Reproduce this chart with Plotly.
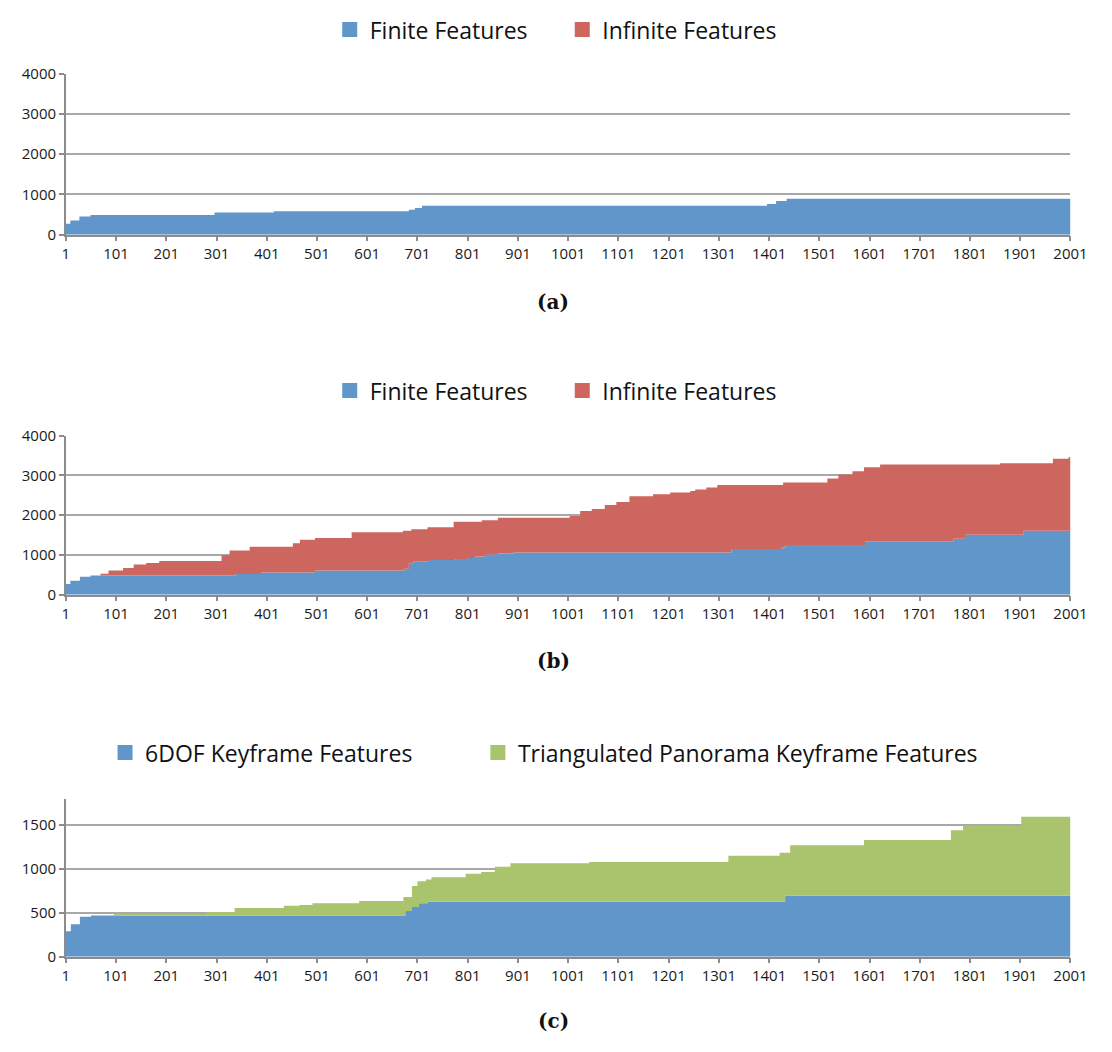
import plotly.graph_objects as go

# ---------------------------------------------------------------
# Feature counts per frame, stored as step breakpoints:
# each value holds from its frame until the next listed frame.
# ---------------------------------------------------------------
LAST_FRAME = 2001

# (a) finite vs. infinite features
frames_a = [1, 10, 28, 50, 297, 415, 684, 696, 710, 1397, 1415, 1436]
finite_a = [270, 350, 450, 490, 550, 585, 620, 665, 720, 765, 840, 890]
infinite_a = [0, 0, 0, 0, 0, 0, 0, 0, 0, 0, 0, 0]

# (b) finite vs. infinite features
frames_b = [1, 10, 29, 50, 70, 86, 115, 136, 161, 187, 311, 327, 339, 367, 390,
            453, 467, 497, 570, 672, 675, 684, 689, 693, 721, 724, 773, 777,
            801, 817, 829, 836, 861, 892, 1004, 1025, 1048, 1074, 1097, 1123,
            1170, 1204, 1244, 1254, 1276, 1298, 1326, 1426, 1429, 1434, 1517,
            1539, 1567, 1590, 1592, 1622, 1768, 1791, 1861, 1908, 1966, 1997]
finite_b = [270, 350, 450, 480, 480, 480, 480, 480, 480, 480, 480, 480, 520, 520, 560,
            560, 560, 610, 610, 610, 650, 790, 790, 840, 840, 875, 875, 900,
            925, 960, 960, 1010, 1035, 1065, 1065, 1065, 1065, 1065, 1065, 1065,
            1065, 1065, 1065, 1065, 1065, 1065, 1150, 1190, 1190, 1250, 1250,
            1250, 1250, 1250, 1345, 1345, 1410, 1510, 1510, 1610, 1610, 1610]
infinite_b = [0, 0, 0, 0, 50, 130, 190, 280, 320, 365, 510, 635, 595, 685, 645,
              735, 820, 820, 960, 1000, 960, 820, 860, 810, 855, 820, 960, 935,
              910, 875, 915, 865, 900, 870, 915, 1040, 1090, 1190, 1265, 1415,
              1465, 1505, 1545, 1585, 1635, 1695, 1610, 1570, 1635, 1575, 1675,
              1775, 1855, 1955, 1860, 1935, 1870, 1770, 1800, 1700, 1810, 1850]

# (c) 6DOF keyframe features vs. triangulated panorama keyframe features
frames_c = [1, 11, 29, 51, 97, 281, 337, 435, 466, 492, 585, 673, 677, 690, 701,
            704, 718, 721, 729, 797, 828, 855, 886, 1043, 1320, 1422, 1433,
            1443, 1590, 1763, 1787, 1903]
dof6_c = [290, 370, 455, 470, 470, 470, 470, 470, 470, 470, 470, 470, 520, 565, 565,
          610, 610, 625, 625, 625, 625, 625, 625, 625, 625, 625, 695,
          695, 695, 695, 695, 695]
pano_c = [0, 0, 0, 0, 20, 40, 85, 110, 120, 140, 165, 210, 160, 240, 295,
          250, 270, 255, 280, 320, 340, 400, 440, 455, 525, 560, 490,
          575, 635, 745, 800, 900]

tick_frames = list(range(1, LAST_FRAME + 1, 100))

BLUE = "#6096c9"
RED = "#cd665f"
GREEN = "#a9c46c"
AXIS_GREY = "#8c8c8c"
GRID_GREY = "#a8a8a8"
FONT = "Open Sans"

W, H = 1112, 1052
X_LEFT, X_RIGHT = 63, 1087
# pixel rows (top, bottom) of each panel's plotting area
panels = [(64, 228), (433, 595), (803, 964)]
# legend row centre and the left edge of each entry's label, per panel
legend_text_x = [(366, 603), (366, 603), (137, 517)]
legend_rows = [19, 387, 756]


def extend(frames, values):
    """Carry the final step out to the last frame."""
    return list(frames) + [LAST_FRAME], list(values) + [values[-1]]


fig = go.Figure()

series = [
    ("a", frames_a, [("Finite Features", finite_a, BLUE),
                     ("Infinite Features", infinite_a, RED)]),
    ("b", frames_b, [("Finite Features", finite_b, BLUE),
                     ("Infinite Features", infinite_b, RED)]),
    ("c", frames_c, [("6DOF Keyframe Features", dof6_c, BLUE),
                     ("Triangulated Panorama Keyframe Features", pano_c, GREEN)]),
]

layout = dict(
    width=W, height=H, margin=dict(l=0, r=0, t=0, b=0),
    paper_bgcolor="white", plot_bgcolor="white",
    font=dict(family=FONT, color="#1a1a1a"),
    showlegend=True,
)

legend_no = 0
for i, (tag, frames, traces) in enumerate(series):
    ax = "" if i == 0 else str(i + 1)
    for j, (name, vals, color) in enumerate(traces):
        xs, ys = extend(frames, vals)
        fig.add_trace(go.Scatter(
            x=xs, y=ys, name=name, mode="lines",
            line=dict(shape="hv", width=0, color=color),
            fillcolor=color, stackgroup=tag,
            xaxis="x" + ax, yaxis="y" + ax, showlegend=False,
        ))
        # square key for this series, one legend box per entry
        legend_no += 1
        lg = "legend" if legend_no == 1 else "legend%d" % legend_no
        fig.add_trace(go.Scatter(
            x=[None], y=[None], name=name, mode="markers",
            marker=dict(symbol="square", size=15, color=color),
            xaxis="x" + ax, yaxis="y" + ax, legend=lg, showlegend=True,
        ))
        layout[lg] = dict(
            orientation="h", x=(legend_text_x[i][j] - 34) / W, xanchor="left",
            y=1 - legend_rows[i] / H, yanchor="middle",
            font=dict(size=23, family=FONT, color="#111"),
            itemwidth=30, bgcolor="rgba(0,0,0,0)",
        )

y_ranges = [[0, 4000], [0, 4000], [0, 1800]]
y_ticks = [[0, 1000, 2000, 3000, 4000], [0, 1000, 2000, 3000, 4000], [0, 500, 1000, 1500]]

for i, (top, bot) in enumerate(panels):
    ax = "" if i == 0 else str(i + 1)
    layout["xaxis" + ax] = dict(
        domain=[X_LEFT / W, X_RIGHT / W], anchor="y" + ax,
        range=[1, LAST_FRAME], tickvals=tick_frames,
        ticks="outside", ticklen=5, tickcolor=AXIS_GREY, tickwidth=1.5,
        showline=True, linecolor=AXIS_GREY, linewidth=1.5,
        showgrid=False, zeroline=False,
        tickfont=dict(size=15, family=FONT, color="#1a1a1a"),
    )
    layout["yaxis" + ax] = dict(
        domain=[1 - bot / H, 1 - top / H], anchor="x" + ax,
        range=y_ranges[i], tickvals=y_ticks[i],
        ticks="outside", ticklen=5, tickcolor=AXIS_GREY, tickwidth=1.5,
        showline=True, linecolor=AXIS_GREY, linewidth=1.5,
        showgrid=True, gridcolor=GRID_GREY, gridwidth=1.5,
        zeroline=False,
        tickfont=dict(size=15, family=FONT, color="#1a1a1a"),
    )

fig.update_layout(**layout)

for label, ypix in [("(a)", 297), ("(b)", 663), ("(c)", 1030)]:
    fig.add_annotation(
        text="<b>" + label + "</b>", xref="paper", yref="paper",
        x=560 / W, y=1 - ypix / H, xanchor="center", yanchor="middle",
        showarrow=False, font=dict(size=20, family="DejaVu Serif", color="#111"),
    )

fig.write_html("out.html")
